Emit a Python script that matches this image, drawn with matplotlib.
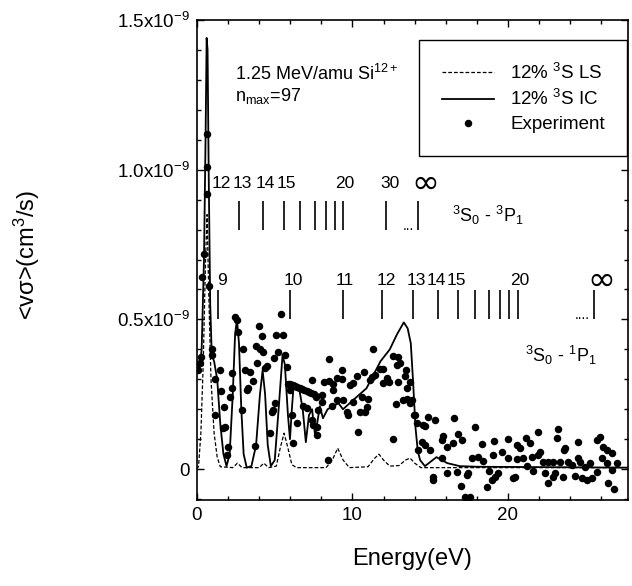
import matplotlib.pyplot as plt
import numpy as np

plt.rcParams['font.family'] = ['Liberation Sans', 'DejaVu Sans']
plt.rcParams['mathtext.default'] = 'regular'

# Rates in units of 1e-9 cm^3/s, energies in eV

# 12% 3S IC (solid)
ic_energy = [0.0, 0.15, 0.3, 0.45, 0.55, 0.62, 0.68, 0.75, 0.85, 0.95, 1.1, 1.3, 1.5, 1.7, 1.9,
             2.1, 2.3, 2.45, 2.57, 2.7, 2.85, 3.0, 3.2, 3.5, 3.8, 4.05, 4.22, 4.38, 4.55, 4.75,
             5.0, 5.25, 5.5, 5.65, 5.85, 5.98, 6.1, 6.2, 6.6, 6.8, 7.0, 7.2, 7.4, 7.6, 7.9,
             8.1, 8.4, 8.75, 9.1, 9.39, 10.03, 10.9, 11.8, 12.4, 12.86, 13.3, 13.55, 13.75,
             13.9, 14.05, 14.2, 14.35, 14.66, 15.4, 16.1, 16.9, 18.0, 27.7]
ic_rate = [0.36, 0.33, 0.40, 0.70, 1.10, 1.44, 1.40, 1.00, 0.55, 0.38, 0.36, 0.30, 0.15, 0.05, 0.01,
           0.05, 0.25, 0.45, 0.50, 0.42, 0.20, 0.05, 0.005, 0.01, 0.08, 0.25, 0.33, 0.25, 0.08, 0.01,
           0.03, 0.20, 0.38, 0.35, 0.18, 0.10, 0.20, 0.27, 0.26, 0.20, 0.09, 0.18, 0.20, 0.11, 0.21,
           0.17, 0.20, 0.21, 0.22, 0.20, 0.23, 0.27, 0.36, 0.40, 0.45, 0.49, 0.47, 0.42,
           0.29, 0.14, 0.06, 0.03, 0.01, 0.04, 0.02, 0.01, 0.008, 0.005]

# 12% 3S LS (dashed)
ls_energy = [0.0, 0.1, 0.25, 0.4, 0.55, 0.65, 0.75, 0.9, 1.1, 1.3, 1.5, 2.3, 2.6, 2.9, 4.0, 4.3,
             4.6, 5.1, 5.35, 5.6, 5.85, 6.1, 6.4, 8.3, 8.7, 9.05, 9.4, 9.8, 11.0, 11.4, 11.7,
             12.0, 12.4, 13.0, 13.4, 13.7, 14.0, 14.4, 27.7]
ls_rate = [0.0, 0.01, 0.12, 0.35, 0.70, 0.85, 0.60, 0.30, 0.12, 0.04, 0.008, 0.005, 0.02, 0.005,
           0.005, 0.02, 0.005, 0.01, 0.07, 0.12, 0.07, 0.015, 0.005, 0.005, 0.03, 0.07, 0.03,
           0.005, 0.008, 0.035, 0.05, 0.03, 0.01, 0.012, 0.03, 0.037, 0.02, 0.005, 0.005]

# Experiment
exp_energy = [0.64, 0.64, 0.64, 0.45, 0.32, 0.77, 0.26, 0.19, 0.06,
              0.96, 0.96, 1.16, 1.48, 1.54, 1.74, 1.67, 1.80, 1.93, 1.99, 1.16, 2.25, 2.12, 2.25,
              2.44, 2.57, 2.64, 2.96, 2.89, 3.09, 3.41, 3.22, 3.28, 3.60, 3.73, 3.99, 4.18, 3.79,
              4.24, 4.05, 3.86, 4.50, 4.37, 4.69, 4.95, 4.89, 4.82, 5.02, 5.08, 5.40, 5.53, 5.21,
              5.66, 5.79, 5.98, 6.11, 6.43, 6.17,
              5.85, 6.0, 6.15, 6.3, 6.45, 6.6, 6.75, 6.9, 7.05, 7.2, 7.35, 7.5, 7.65,
              11.32, 8.49, 9.32, 7.40, 8.17, 8.49, 9.00, 9.32, 8.75, 9.84, 10.03, 10.29, 10.74,
              11.25, 11.45, 11.77, 11.96, 11.13, 12.22, 12.35, 11.96, 12.60, 12.93, 12.86, 13.05,
              13.44, 13.38, 13.70, 12.93, 13.50, 8.75, 8.04, 7.65, 9.00, 9.39, 10.03, 10.61, 11.00,
              13.25, 13.50, 12.80, 13.70, 8.04, 6.82, 7.07, 7.78, 8.68, 9.65, 9.71, 10.48, 10.80,
              10.93, 14.02, 7.40, 7.46, 7.72, 7.72, 10.35, 12.60, 14.15, 14.21, 8.42,
              13.83, 13.95, 14.86, 15.31, 16.53, 14.53, 14.66, 17.88, 15.82, 15.76, 16.46, 16.78,
              17.04, 14.47, 14.66, 14.98, 16.08, 18.33, 19.10, 20.00, 20.58, 15.76, 17.68, 18.07,
              18.39, 19.04, 19.61, 20.00, 20.58, 16.08, 16.72, 17.36, 17.43, 15.18, 15.18, 18.78,
              19.36, 19.16, 18.97, 20.32, 16.98, 18.65, 17.23, 17.56,
              23.22, 23.15, 21.93, 21.16, 21.41, 20.77, 23.67, 23.60, 24.50, 25.72, 25.92, 26.11,
              26.37, 26.69, 22.06, 21.93, 20.96, 21.54, 22.25, 22.57, 22.89, 23.34, 23.86, 24.12,
              24.50, 24.63, 25.27, 24.95, 26.05, 26.37, 27.01, 21.22, 21.61, 22.38, 23.02, 22.89,
              23.54, 24.31, 24.76, 25.08, 25.40, 25.72, 26.69, 22.57, 26.43, 26.82, 20.45]
exp_rate = [1.12, 1.01, 0.92, 0.72, 0.64, 0.61, 0.373, 0.353, 0.33,
            0.40, 0.38, 0.30, 0.33, 0.26, 0.207, 0.137, 0.14, 0.047, 0.073, 0.18, 0.32, 0.24, 0.27,
            0.507, 0.497, 0.457, 0.40, 0.197, 0.33, 0.323, 0.263, 0.27, 0.293, 0.077, 0.477, 0.443, 0.41,
            0.39, 0.40, 0.353, 0.343, 0.337, 0.12, 0.37, 0.197, 0.19, 0.22, 0.447, 0.517, 0.447, 0.39,
            0.38, 0.34, 0.263, 0.18, 0.153, 0.087,
            0.285, 0.283, 0.28, 0.278, 0.275, 0.272, 0.268, 0.265, 0.262, 0.258, 0.254, 0.25, 0.245,
            0.40, 0.367, 0.33, 0.297, 0.29, 0.293, 0.303, 0.30, 0.283, 0.28, 0.287, 0.31, 0.323,
            0.307, 0.313, 0.333, 0.333, 0.297, 0.303, 0.29, 0.287, 0.377, 0.373, 0.347, 0.353,
            0.33, 0.31, 0.29, 0.29, 0.27, 0.263, 0.247, 0.24, 0.23, 0.23, 0.223, 0.24, 0.233,
            0.23, 0.233, 0.217, 0.22, 0.223, 0.21, 0.203, 0.197, 0.21, 0.19, 0.18, 0.19, 0.19,
            0.207, 0.18, 0.163, 0.147, 0.14, 0.113, 0.123, 0.10, 0.153, 0.063, 0.03,
            0.23, 0.18, 0.173, 0.163, 0.17, 0.147, 0.143, 0.14, 0.11, 0.097, 0.087, 0.117,
            0.097, 0.09, 0.08, 0.063, 0.073, 0.083, 0.093, 0.10, 0.08, 0.037, 0.037, 0.04,
            0.027, 0.047, 0.057, 0.037, 0.033, -0.013, -0.01, -0.02, -0.013, -0.027, -0.037, -0.007,
            -0.013, -0.027, -0.037, -0.03, -0.057, -0.06, -0.093, -0.093,
            0.133, 0.103, 0.123, 0.103, 0.087, 0.07, 0.07, 0.063, 0.09, 0.097, 0.107, 0.073,
            0.063, 0.053, 0.057, 0.047, 0.037, 0.04, 0.023, 0.023, 0.023, 0.023, 0.023, 0.013,
            0.037, 0.023, 0.02, 0.007, 0.037, 0.02, 0.02, 0.01, -0.007, -0.013, -0.013, -0.027,
            -0.027, -0.023, -0.03, -0.037, -0.03, -0.01, -0.003, -0.047, -0.047, -0.067, -0.027]

# Rydberg series markers: 3S0 - 3P1
trip_lines = [2.72, 4.26, 5.61, 6.62, 7.61, 8.30, 8.87, 9.37, 12.13, 14.2]
trip_labels = ['12', '13', '14', '15', '20', '30']
trip_label_x = [1.54, 2.89, 4.37, 5.72, 9.52, 12.41]
trip_inf_x = 14.66
# 3S0 - 1P1
sing_lines = [1.37, 5.98, 9.41, 11.88, 13.91, 15.48, 16.77, 17.88, 18.78, 19.49, 20.09, 20.67, 25.56]
sing_labels = ['9', '10', '11', '12', '13', '14', '15', '20']
sing_label_x = [1.59, 6.19, 9.52, 12.2, 14.13, 15.41, 16.7, 20.77]
sing_inf_x = 25.98

fig = plt.figure(figsize=(6.32, 5.86), dpi=100)
ax = fig.add_axes([0.3117, 0.1468, 0.682, 0.8191])

ax.plot(ls_energy, ls_rate, color='k', ls=(0, (3, 1.6)), lw=0.9, label='12% $^3$S LS')
ax.plot(ic_energy, ic_rate, color='k', ls='-', lw=1.3, label='12% $^3$S IC')
ax.plot(exp_energy, exp_rate, 'o', color='k', ms=5.4, mew=0, ls='none', label='Experiment', zorder=3)

# series markers
ax.vlines(trip_lines, 0.80, 0.897, color='k', lw=1.2)
for lab, x in zip(trip_labels, trip_label_x):
    ax.text(x, 0.953, lab, ha='center', va='center', fontsize=12.5)
ax.text(trip_inf_x, 0.953, '∞', ha='center', va='center', fontsize=24, family='DejaVu Sans')
ax.text(13.6, 0.80, '...', ha='center', va='baseline', fontsize=10)
ax.text(16.4, 0.847, '$^3$S$_0$ - $^3$P$_1$', ha='left', va='center', fontsize=13)

ax.vlines(sing_lines, 0.503, 0.597, color='k', lw=1.2)
for lab, x in zip(sing_labels, sing_label_x):
    ax.text(x, 0.63, lab, ha='center', va='center', fontsize=12.5)
ax.text(sing_inf_x, 0.63, '∞', ha='center', va='center', fontsize=24, family='DejaVu Sans')
ax.text(24.8, 0.503, '....', ha='center', va='baseline', fontsize=10)
ax.text(21.09, 0.38, '$^3$S$_0$ - $^1$P$_1$', ha='left', va='center', fontsize=13)

ax.text(2.44, 1.32, '1.25 MeV/amu Si$^{12+}$', ha='left', va='center', fontsize=13)
ax.text(2.44, 1.247, 'n$_{max}$=97', ha='left', va='center', fontsize=13)

ax.set_xlim(0, 27.72)
ax.set_ylim(-0.103, 1.5)
ax.set_xticks([0, 10, 20])
ax.set_xticks(np.arange(0, 27.72, 2), minor=True)
ax.set_yticks([0, 0.5, 1.0, 1.5])
ax.set_yticklabels(['0', '0.5x10$^{-9}$', '1.0x10$^{-9}$', '1.5x10$^{-9}$'])
ax.set_yticks(np.arange(-0.1, 1.55, 0.1), minor=True)
ax.tick_params(which='both', direction='in', top=True, right=True, labelsize=13.5, width=1)
ax.tick_params(which='major', length=5, pad=5)
ax.tick_params(which='minor', length=3)
for s in ax.spines.values():
    s.set_linewidth(1.2)

ax.set_xlabel('Energy(eV)', fontsize=17)
ax.xaxis.set_label_coords(0.5, -0.1)
ax.set_ylabel('<vσ>(cm$^3$/s)', fontsize=17)
ax.yaxis.set_label_coords(-0.36, 0.51)

leg = ax.legend(loc='upper right', bbox_to_anchor=(0.998, 0.958), borderaxespad=0,
                fancybox=False, edgecolor='k', fontsize=13.5, handlelength=2.8,
                handletextpad=0.85, labelspacing=0.35, borderpad=1.2, numpoints=1)
leg.get_frame().set_linewidth(1.0)
leg.get_frame().set_alpha(1)

fig.savefig('out.png', dpi=100)
